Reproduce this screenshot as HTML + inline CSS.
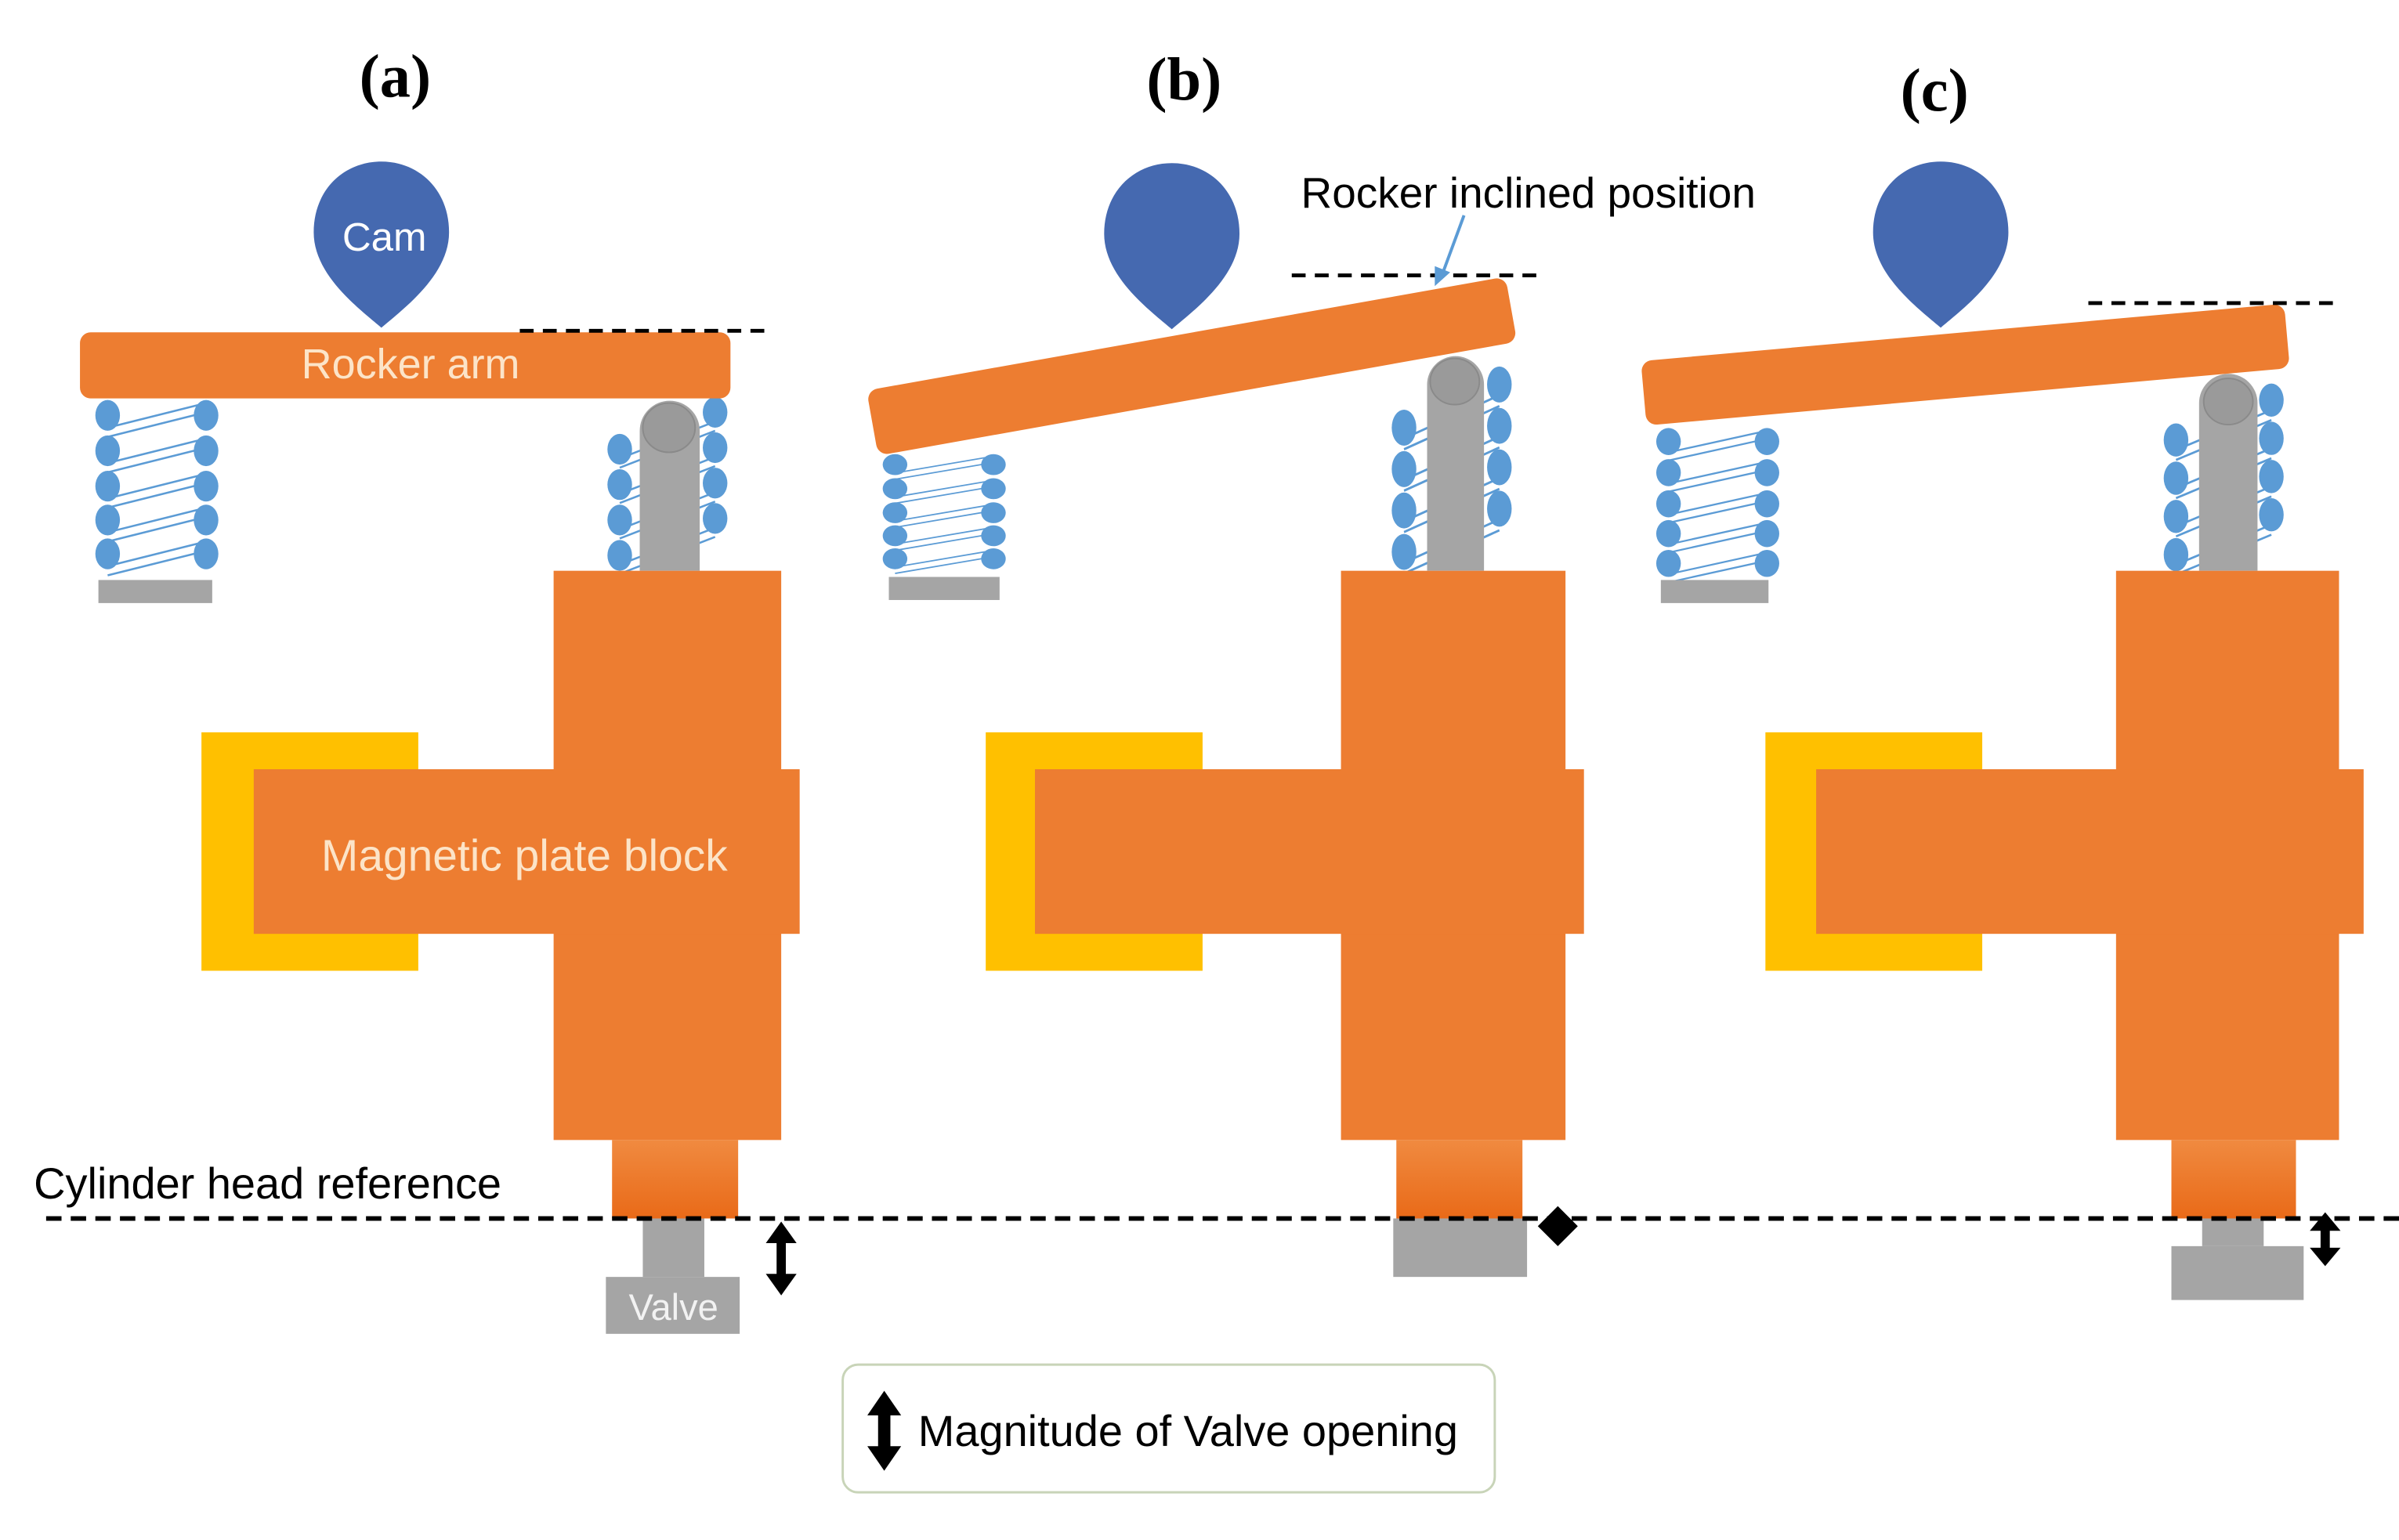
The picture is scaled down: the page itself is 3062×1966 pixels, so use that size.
<!DOCTYPE html>
<html><head><meta charset="utf-8"><style>html,body{margin:0;padding:0;background:#fff}svg{display:block}</style></head>
<body>
<svg width="3062" height="1966" viewBox="0 0 1560 1001" preserveAspectRatio="none" xmlns="http://www.w3.org/2000/svg">
<defs>
<linearGradient id="og" x1="0" y1="0" x2="0" y2="1"><stop offset="0" stop-color="#F08A40"/><stop offset="1" stop-color="#E96A18"/></linearGradient>
<g id="camp"><path d="M0,108 C-14,96 -44,74 -44,46 C-44,18 -24,0 0,0 C24,0 44,18 44,46 C44,74 14,96 0,108Z" fill="#4569B0"/></g>
<g id="sprL" fill="#5B9BD5" stroke="none">
 <g stroke="#5B9BD5" stroke-width="1.3" fill="none">
  <line x1="0" y1="8" x2="64" y2="-8"/><line x1="0" y1="14" x2="64" y2="-2"/>
  <line x1="0" y1="31" x2="64" y2="15"/><line x1="0" y1="37" x2="64" y2="21"/>
  <line x1="0" y1="54" x2="64" y2="38"/><line x1="0" y1="60" x2="64" y2="44"/>
  <line x1="0" y1="76" x2="64" y2="60"/><line x1="0" y1="82" x2="64" y2="66"/>
  <line x1="0" y1="98" x2="64" y2="82"/><line x1="0" y1="104" x2="64" y2="88"/>
 </g>
 <ellipse cx="0" cy="0" rx="8" ry="10"/><ellipse cx="0" cy="23" rx="8" ry="10"/><ellipse cx="0" cy="46" rx="8" ry="10"/><ellipse cx="0" cy="68" rx="8" ry="10"/><ellipse cx="0" cy="90" rx="8" ry="10"/>
 <ellipse cx="64" cy="0" rx="8" ry="10"/><ellipse cx="64" cy="23" rx="8" ry="10"/><ellipse cx="64" cy="46" rx="8" ry="10"/><ellipse cx="64" cy="68" rx="8" ry="10"/><ellipse cx="64" cy="90" rx="8" ry="10"/>
</g>
<g id="sprR" fill="#5B9BD5">
 <g stroke="#5B9BD5" stroke-width="1.3" fill="none">
  <line x1="0" y1="6" x2="62" y2="-18"/><line x1="0" y1="12" x2="62" y2="-12"/>
  <line x1="0" y1="29" x2="62" y2="5"/><line x1="0" y1="35" x2="62" y2="11"/>
  <line x1="0" y1="52" x2="62" y2="28"/><line x1="0" y1="58" x2="62" y2="34"/>
  <line x1="0" y1="75" x2="62" y2="51"/><line x1="0" y1="81" x2="62" y2="57"/>
 </g>
 <ellipse cx="0" cy="0" rx="8" ry="10"/><ellipse cx="0" cy="23" rx="8" ry="10"/><ellipse cx="0" cy="46" rx="8" ry="10"/><ellipse cx="0" cy="69" rx="8" ry="10"/>
 <ellipse cx="62" cy="-24" rx="8" ry="10"/><ellipse cx="62" cy="-1" rx="8" ry="10"/><ellipse cx="62" cy="22" rx="8" ry="10"/><ellipse cx="62" cy="45" rx="8" ry="10"/>
</g>
</defs>

<g font-family="Liberation Serif, serif" font-weight="bold" font-size="40" text-anchor="middle" fill="#000">
<text x="257" y="63">(a)</text><text x="770" y="65">(b)</text><text x="1258" y="72">(c)</text>
</g>

<!-- ========== (a) ========== -->
<use href="#sprL" x="70" y="270"/>
<rect x="64" y="377" width="74" height="15" fill="#A5A5A5"/>
<use href="#sprR" x="403" y="292"/>
<path d="M416,371 V280 A19.5,19.5 0 0 1 455,280 V371Z" fill="#A5A5A5"/>
<ellipse cx="435" cy="278" rx="17" ry="16" fill="#9a9a9a" stroke="#8a8a8a"/>
<rect x="52" y="216" width="423" height="43" rx="7" fill="#ED7D31"/>
<text x="267" y="246" font-family="Liberation Sans, sans-serif" font-size="27.5" fill="#FCE4C8" text-anchor="middle">Rocker arm</text>
<use href="#camp" x="248" y="105"/>
<text x="250" y="163" font-family="Liberation Sans, sans-serif" font-size="26" fill="#fff" text-anchor="middle">Cam</text>
<line x1="338" y1="215" x2="500" y2="215" stroke="#000" stroke-width="2.5" stroke-dasharray="9,6"/>
<rect x="360" y="371" width="148" height="370" fill="#ED7D31"/>
<rect x="131" y="476" width="141" height="155" fill="#FFC000"/>
<rect x="165" y="500" width="355" height="107" fill="#ED7D31"/>
<text x="341" y="566" font-family="Liberation Sans, sans-serif" font-size="29" fill="#FCE4C8" text-anchor="middle">Magnetic plate block</text>
<rect x="398" y="741" width="82" height="51" fill="url(#og)"/>
<rect x="418" y="792" width="40" height="38" fill="#A5A5A5"/>
<rect x="394" y="830" width="87" height="37" fill="#A5A5A5"/>
<text x="438" y="858" font-family="Liberation Sans, sans-serif" font-size="24" fill="#f2f2f2" text-anchor="middle">Valve</text>
<path d="M508,794 L498,808 H505 V828 H498 L508,842 L518,828 H511 V808 H518Z" fill="#000"/>
<text x="22" y="779" font-family="Liberation Sans, sans-serif" font-size="28.5" fill="#000">Cylinder head reference</text>

<!-- ========== (b) ========== -->
<g transform="translate(582,302) scale(1,0.68)"><use href="#sprL"/></g>
<rect x="578" y="375" width="72" height="15" fill="#A5A5A5"/>
<g transform="translate(913,278) scale(1,1.17)"><use href="#sprR"/></g>
<path d="M928,371 V250 A18.5,18.5 0 0 1 965,250 V371Z" fill="#A5A5A5"/>
<ellipse cx="946" cy="248" rx="16" ry="15" fill="#9a9a9a" stroke="#8a8a8a"/>
<g transform="translate(775,238) rotate(-10.1)"><rect x="-211" y="-21.5" width="422" height="43" rx="7" fill="#ED7D31"/></g>
<use href="#camp" x="762" y="106"/>
<line x1="840" y1="179" x2="1005" y2="179" stroke="#000" stroke-width="2.5" stroke-dasharray="9,6"/>
<text x="846" y="135" font-family="Liberation Sans, sans-serif" font-size="28" fill="#000">Rocker inclined position</text>
<line x1="952" y1="140" x2="938" y2="178" stroke="#5B9BD5" stroke-width="2"/>
<path d="M933,186 L933,173 L943,177Z" fill="#5B9BD5"/>
<rect x="872" y="371" width="146" height="370" fill="#ED7D31"/>
<rect x="641" y="476" width="141" height="155" fill="#FFC000"/>
<rect x="673" y="500" width="357" height="107" fill="#ED7D31"/>
<rect x="908" y="741" width="82" height="51" fill="url(#og)"/>
<rect x="906" y="792" width="87" height="38" fill="#A5A5A5"/>
<path d="M1013,784 L1000,797 L1013,810 L1026,797Z" fill="#000"/>

<!-- ========== (c) ========== -->
<g transform="translate(1085,287) scale(1,0.88)"><use href="#sprL"/></g>
<rect x="1080" y="377" width="70" height="15" fill="#A5A5A5"/>
<g transform="translate(1415,286) scale(1,1.08)"><use href="#sprR"/></g>
<path d="M1430,371 V262 A19,19 0 0 1 1468,262 V371Z" fill="#A5A5A5"/>
<ellipse cx="1449" cy="261" rx="16" ry="15" fill="#9a9a9a" stroke="#8a8a8a"/>
<g transform="translate(1278,237) rotate(-5.1)"><rect x="-210" y="-21" width="420" height="42" rx="7" fill="#ED7D31"/></g>
<use href="#camp" x="1262" y="105"/>
<line x1="1358" y1="197" x2="1522" y2="197" stroke="#000" stroke-width="2.5" stroke-dasharray="9,6"/>
<rect x="1376" y="371" width="145" height="370" fill="#ED7D31"/>
<rect x="1148" y="476" width="141" height="155" fill="#FFC000"/>
<rect x="1181" y="500" width="356" height="107" fill="#ED7D31"/>
<rect x="1412" y="741" width="81" height="51" fill="url(#og)"/>
<rect x="1432" y="792" width="40" height="18" fill="#A5A5A5"/>
<rect x="1412" y="810" width="86" height="35" fill="#A5A5A5"/>
<path d="M1512,788 L1502,800 H1509 V811 H1502 L1512,823 L1522,811 H1515 V800 H1522Z" fill="#000"/>

<!-- cylinder head reference line -->
<line x1="30" y1="792" x2="1560" y2="792" stroke="#000" stroke-width="3" stroke-dasharray="10,6"/>

<!-- legend -->
<rect x="548" y="887" width="424" height="83" rx="10" fill="#fff" stroke="#C8D4B8" stroke-width="1.5"/>
<path d="M575,904 L564,920 H571 V940 H564 L575,956 L586,940 H579 V920 H586Z" fill="#000"/>
<text x="597" y="940" font-family="Liberation Sans, sans-serif" font-size="28.5" fill="#000">Magnitude of Valve opening</text>
</svg>
</body></html>
